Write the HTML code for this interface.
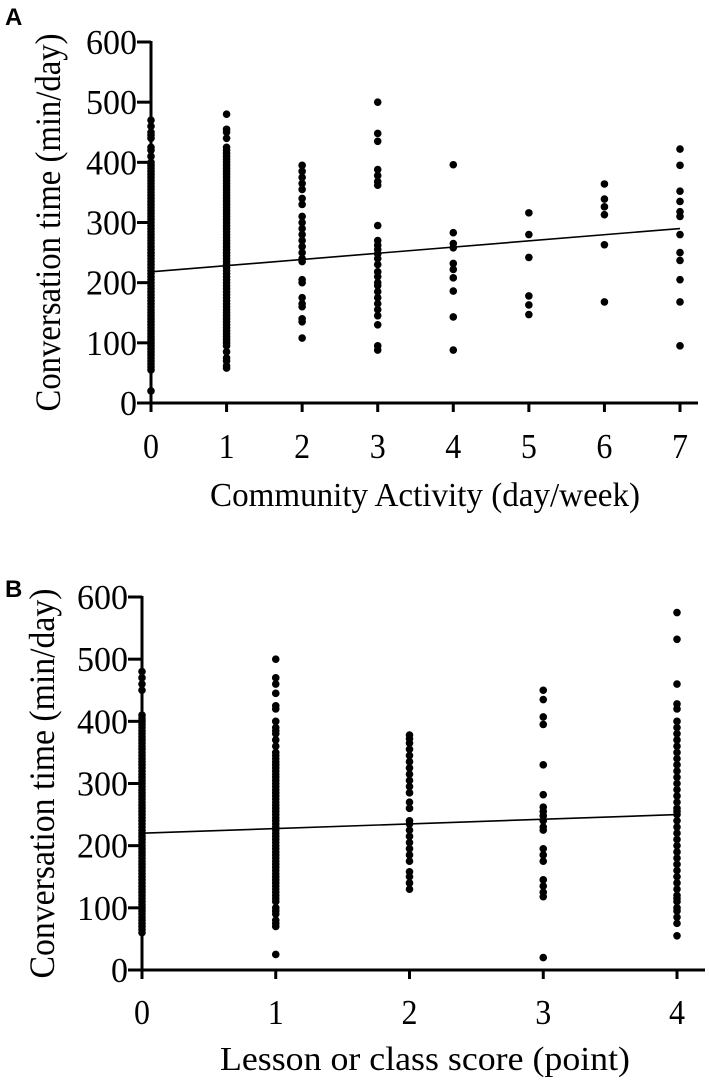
<!DOCTYPE html>
<html><head><meta charset="utf-8"><style>
html,body{margin:0;padding:0;background:#fff;}
svg{display:block;}
text{font-family:"Liberation Serif","Times New Roman",serif;fill:#000;}
</style></head><body>
<svg id="chart" width="709" height="1088" viewBox="0 0 709 1088" xmlns="http://www.w3.org/2000/svg">
<text x="5" y="25" style="font-family:'Liberation Sans',sans-serif;font-weight:bold;font-size:24px">A</text>
<text x="5" y="597" style="font-family:'Liberation Sans',sans-serif;font-weight:bold;font-size:24px">B</text>
<g id="pa"></g>
<g id="pb"></g>
</svg>
<script>
// Panel A data
const aCategories = [0,1,2,3,4,5,6,7];
const aYTicks = [0,100,200,300,400,500,600];
const aXTitle = "Community Activity (day/week)";
const aCol0 = [20,55,60,65,70,75,80,85,90,95,100,105,110,115,120,125,130,135,140,145,150,155,160,165,170,175,180,185,190,195,200,205,210,215,220,225,230,235,240,245,250,255,260,265,270,275,280,285,290,295,300,305,310,315,320,325,330,335,340,345,350,355,360,365,370,375,380,385,390,395,400,410,420,425,440,445,450,460,470];
const aCol1 = [58,62,70,75,85,95,100,105,110,115,120,125,130,135,140,145,150,155,160,165,170,175,180,185,190,195,200,205,210,215,220,225,230,235,240,245,250,255,260,265,270,275,280,285,290,295,300,305,310,315,320,325,330,335,340,345,350,355,360,365,370,375,380,385,390,395,400,405,410,415,420,425,440,450,455,480];
const aCol2 = [395,385,375,365,355,340,330,310,300,290,280,270,260,250,240,235,205,200,175,165,160,140,135,108];
const aCol3 = [500,448,435,388,378,368,362,295,270,262,255,248,240,230,218,210,200,195,185,175,165,155,145,130,95,88];
const aCol4 = [396,283,265,258,232,222,208,186,143,88];
const aCol5 = [316,280,242,178,163,147];
const aCol6 = [364,339,326,313,263,168];
const aCol7 = [422,395,352,335,318,310,280,250,237,205,168,95];
const aFit = [218,290];

// Panel B data
const bCategories = [0,1,2,3,4];
const bYTicks = [0,100,200,300,400,500,600];
const bXTitle = "Lesson or class score (point)";
const bCol0 = [60,65,70,75,80,85,90,95,100,105,110,115,120,125,130,135,140,145,150,155,160,165,170,175,180,185,190,195,200,205,210,215,220,225,230,235,240,245,250,255,260,265,270,275,280,285,290,295,300,305,310,315,320,325,330,335,340,345,350,355,360,365,370,375,380,385,390,395,400,405,410,450,460,470,480];
const bCol1 = [25,70,75,80,90,95,100,110,115,120,125,130,135,140,145,150,155,160,165,170,175,180,185,190,195,200,205,210,215,220,225,230,235,240,245,250,255,260,265,270,275,280,285,290,295,300,305,310,315,320,325,330,335,340,345,350,360,370,380,385,390,400,420,425,445,460,470,500];
const bCol2 = [130,140,150,158,175,185,195,205,215,225,235,240,260,270,285,295,305,315,325,335,345,355,365,372,378];
const bCol3 = [450,435,407,395,330,282,262,255,248,240,230,225,195,185,175,145,135,125,118,20];
const bCol4 = [55,75,85,95,100,110,115,120,130,140,150,160,170,180,190,200,210,220,230,240,250,255,260,270,280,290,300,310,320,330,340,350,360,370,380,390,400,420,428,460,532,575];
const bFit = [220,250];

const NS = "http://www.w3.org/2000/svg";
function mk(parent, tag, attrs, txt){
  const e = document.createElementNS(NS, tag);
  for (const k in attrs) e.setAttribute(k, attrs[k]);
  if (txt !== undefined) e.textContent = txt;
  parent.appendChild(e);
  return e;
}

function drawPanel(g, cfg){
  const {x0, x1, y0, y600, cats, cols, ticks, fit, xTitle, xTitleY, xTitleLen, yTitleX, yTitleLen, axisL, axisR, tickLabY} = cfg;
  const n = cats.length - 1;
  const sx = v => x0 + (x1 - x0) * v / n;
  const sy = v => y0 + (y600 - y0) * v / 600;
  cols.forEach((col, i) => {
    col.forEach(v => {
      const c = mk(g, "circle", {cx: sx(cats[i]), cy: sy(v), r: 3.8, fill: "#000"});
      
      
    });
  });
  const l = mk(g, "line", {x1: sx(0), y1: sy(fit[0]), x2: sx(n), y2: sy(fit[1]), stroke: "#000", "stroke-width": 1.6});
  
  
  const ya = mk(g, "line", {x1: x0, y1: sy(600) - 1, x2: x0, y2: y0 + 9, stroke: "#000", "stroke-width": 3});
  
  
  const xa = mk(g, "line", {x1: axisL, y1: y0, x2: axisR, y2: y0, stroke: "#000", "stroke-width": 3});
  
  
  ticks.forEach(t => {
    const tk = mk(g, "line", {x1: x0 - 14, y1: sy(t), x2: x0, y2: sy(t), stroke: "#000", "stroke-width": 3});
    
    
    const lb = mk(g, "text", {x: x0 - 14, y: sy(t) + 12, "text-anchor": "end", "font-size": 35, textLength: String(t).length * 17, lengthAdjust: "spacingAndGlyphs"}, String(t));
    
    
  });
  cats.forEach(c => {
    const tk = mk(g, "line", {x1: sx(c), y1: y0, x2: sx(c), y2: y0 + 9, stroke: "#000", "stroke-width": 3});
    
    
    const lb = mk(g, "text", {x: sx(c), y: tickLabY, "text-anchor": "middle", "font-size": 35, textLength: 16, lengthAdjust: "spacingAndGlyphs"}, String(c));
    
    
  });
  const xt = mk(g, "text", {x: 425, y: xTitleY, "text-anchor": "middle", "font-size": 34, textLength: xTitleLen, lengthAdjust: "spacingAndGlyphs"}, xTitle);
  
  
  const cy = (y0 + sy(600)) / 2;
  const yt = mk(g, "text", {x: 0, y: 0, "text-anchor": "middle", "font-size": 36, textLength: yTitleLen, lengthAdjust: "spacingAndGlyphs", transform: `translate(${yTitleX},${cy}) rotate(-90)`}, "Conversation time (min/day)");
  
  
}

drawPanel(document.getElementById("pa"), {
  x0: 151, x1: 680, y0: 403, y600: 42, cats: aCategories,
  cols: [aCol0,aCol1,aCol2,aCol3,aCol4,aCol5,aCol6,aCol7],
  ticks: aYTicks, fit: aFit, xTitle: aXTitle, xTitleY: 506, xTitleLen: 430,
  yTitleX: 60, yTitleLen: 378, axisL: 137, axisR: 698, tickLabY: 458
});
drawPanel(document.getElementById("pb"), {
  x0: 142, x1: 677, y0: 970, y600: 597, cats: bCategories,
  cols: [bCol0,bCol1,bCol2,bCol3,bCol4],
  ticks: bYTicks, fit: bFit, xTitle: bXTitle, xTitleY: 1070, xTitleLen: 410,
  yTitleX: 54, yTitleLen: 390, axisL: 128, axisR: 705, tickLabY: 1024
});
</script>
</body></html>
